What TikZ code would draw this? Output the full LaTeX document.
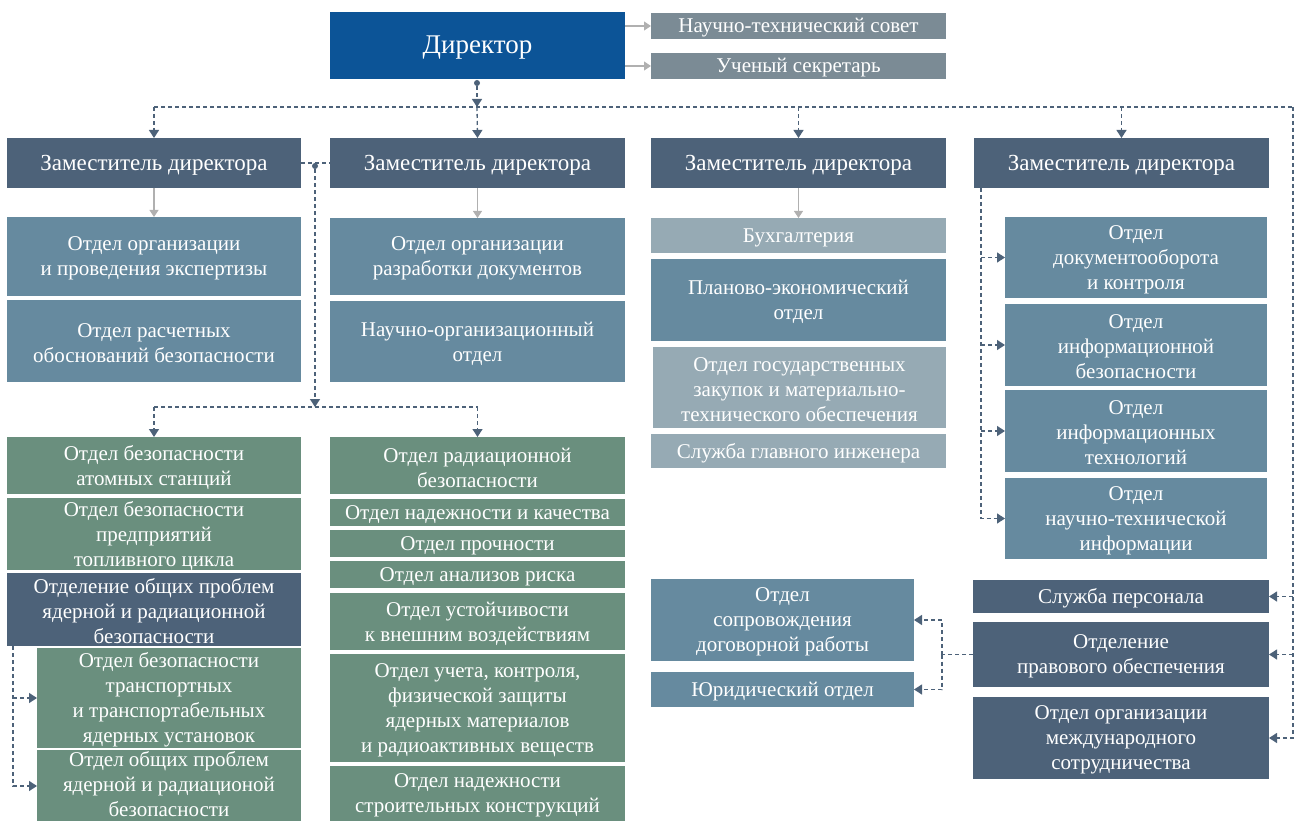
\documentclass[tikz,border=0pt]{standalone}
\usepackage{fontspec}
\setmainfont{Liberation Serif}
\usetikzlibrary{arrows.meta}
\definecolor{dirblue}{HTML}{0C5497}
\definecolor{deputy}{HTML}{4D6279}
\definecolor{midblue}{HTML}{668A9F}
\definecolor{lightblue}{HTML}{96AAB4}
\definecolor{greenbox}{HTML}{6A8F7E}
\definecolor{topgray}{HTML}{7B8B95}
\definecolor{dashc}{HTML}{4D6279}
\definecolor{grayc}{HTML}{B0B0B0}
\newcommand{\fs}{\fontsize{21}{25}\selectfont}
\newcommand{\fd}{\fontsize{23}{25}\selectfont}
\newcommand{\ob}[7]{\node[ob,fill=#1,minimum width={(#4)-(#2)},minimum height={(#5)-(#3)}] (#6) at ({((#2)+(#4))/2},{((#3)+(#5))/2}) {};
  \node[txt] (#6t) at ([yshift=-2pt]#6.center) {#7};}
\begin{document}
\begin{tikzpicture}[x=1pt,y=-1pt,
  ob/.style={inner sep=0pt,outer sep=0pt,draw=none},
  txt/.style={inner sep=0pt,outer sep=0pt,text=white,align=center,font=\fs},
  dl/.style={draw=dashc,line width=1.3pt,dash pattern=on 4pt off 3pt},
  da/.style={dl,-{Triangle[length=8pt,width=10pt]}},
  ga/.style={draw=grayc,line width=1.2pt,-{Triangle[length=7pt,width=9pt]}},
  dotst/.style={circle,fill=dashc,inner sep=0pt,minimum size=6pt}]
\useasboundingbox (0,0) rectangle (1294,821);
% top
\node[ob,fill=dirblue,minimum width=295,minimum height=67] (dir) at (477.5,45.5) {};
\node[txt,font=\fontsize{27}{30}\selectfont] (dirt) at ([yshift=-2pt]dir.center) {Директор};
\ob{topgray}{651}{13}{946}{39}{nts}{Научно-технический совет}
\ob{topgray}{651}{53}{946}{79}{us}{Ученый секретарь}
% deputies
\tikzset{txt/.style={inner sep=0pt,outer sep=0pt,text=white,align=center,font=\fd}}
\ob{deputy}{7}{138}{301}{188}{d1}{Заместитель директора}
\ob{deputy}{330}{138}{625}{188}{d2}{Заместитель директора}
\ob{deputy}{651}{138}{946}{188}{d3}{Заместитель директора}
\ob{deputy}{974}{138}{1269}{188}{d4}{Заместитель директора}
\tikzset{txt/.style={inner sep=0pt,outer sep=0pt,text=white,align=center,font=\fs}}
% column 1
\ob{midblue}{7}{217}{301}{296}{e1}{Отдел организации\\и проведения экспертизы}
\ob{midblue}{7}{300}{301}{382}{e2}{Отдел расчетных\\обоснований безопасности}
% column 2
\ob{midblue}{330}{218}{625}{295}{f1}{Отдел организации\\разработки документов}
\ob{midblue}{330}{301}{625}{382}{f2}{Научно-организационный\\отдел}
% column 3
\ob{lightblue}{651}{218}{946}{253}{buh}{Бухгалтерия}
\ob{midblue}{651}{259}{946}{341}{plan}{Планово-экономический\\отдел}
\ob{lightblue}{653}{347}{946}{428}{zak}{Отдел государственных\\закупок и материально-\\технического обеспечения}
\ob{lightblue}{651}{434}{946}{468}{sgi}{Служба главного инженера}
% column 4
\ob{midblue}{1005}{217}{1267}{298}{c4a}{Отдел\\документооборота\\и контроля}
\ob{midblue}{1005}{304}{1267}{386}{c4b}{Отдел\\информационной\\безопасности}
\ob{midblue}{1005}{390}{1267}{472}{c4c}{Отдел\\информационных\\технологий}
\ob{midblue}{1005}{478}{1267}{559}{c4d}{Отдел\\научно-технической\\информации}
% lower left column
\ob{greenbox}{7}{437}{301}{494}{a1}{Отдел безопасности\\атомных станций}
\ob{greenbox}{7}{498}{301}{570}{a2}{Отдел безопасности\\предприятий\\топливного цикла}
\ob{deputy}{7}{573}{301}{646}{otd}{Отделение общих проблем\\ядерной и радиационной\\безопасности}
\ob{greenbox}{37}{648}{301}{748}{t1}{Отдел безопасности\\транспортных\\и транспортабельных\\ядерных установок}
\node[ob,fill=greenbox,minimum width=264,minimum height=72] (t2) at (169,786) {};
\node[txt] (t2t) at ([yshift=1.5pt]t2.center) {Отдел общих проблем\\ядерной и радиационой\\безопасности};
% lower second column
\ob{greenbox}{330}{437}{625}{494}{r1}{Отдел радиационной\\безопасности}
\ob{greenbox}{330}{499}{625}{526}{r2}{Отдел надежности и качества}
\ob{greenbox}{330}{530}{625}{557}{r3}{Отдел прочности}
\ob{greenbox}{330}{561}{625}{588}{r4}{Отдел анализов риска}
\ob{greenbox}{330}{593}{625}{650}{r5}{Отдел устойчивости\\к внешним воздействиям}
\ob{greenbox}{330}{654}{625}{762}{r6}{Отдел учета, контроля,\\физической защиты\\ядерных материалов\\и радиоактивных веществ}
\ob{greenbox}{330}{766}{625}{821}{r7}{Отдел надежности\\строительных конструкций}
% bottom right
\ob{midblue}{651}{579}{914}{661}{sopr}{Отдел\\сопровождения\\договорной работы}
\ob{midblue}{651}{672}{914}{707}{yur}{Юридический отдел}
\ob{deputy}{973}{580}{1269}{613}{kad}{Служба персонала}
\ob{deputy}{973}{622}{1269}{687}{prav}{Отделение\\правового обеспечения}
\ob{deputy}{973}{697}{1269}{779}{intl}{Отдел организации\\международного\\сотрудничества}
% gray arrows
\draw[ga] (dir.east |- nts.west) -- (nts.west);
\draw[ga] (dir.east |- us.west) -- (us.west);
\draw[ga] (d1.south) -- (e1.north);
\draw[ga] (d2.south) -- (f1.north);
\draw[ga] (d3.south) -- (buh.north);
% director to deputies
\node[dotst] (dot0) at (477,83) {};
\coordinate (j0) at (477,107);
\coordinate (hl) at (154,107);
\coordinate (hr) at (1293,107);
\draw[dl] (hl) -- (hr);
\draw[da] (dot0) -- (j0);
\draw[da] (j0) -- (d2.north);
\draw[da] (hl) -- (d1.north);
\draw[da] (d3.north |- hl) -- (d3.north);
\draw[da] (d4.north |- hl) -- (d4.north);
\draw[da] (hr) |- (intl.east);
\draw[da] (kad.east -| hr) -- (kad.east);
\draw[da] (prav.east -| hr) -- (prav.east);
% deputies 1-2 to lower columns
\draw[dl] (d1.east) -- (d2.west);
\node[dotst] (dot1) at (315,166) {};
\coordinate (j1) at (315,407);
\coordinate (j1l) at (154,407);
\coordinate (j1r) at (477.5,407);
\draw[dl] (j1l) -- (j1r);
\draw[da] (dot1) -- (j1);
\draw[da] (j1l) -- (a1.north);
\draw[da] (j1r) -- (r1.north);
% division to its departments
\coordinate (os) at ([xshift=6pt]otd.south west);
\draw[da] (os) |- (t2.west);
\draw[da] (t1.west -| os) -- (t1.west);
% deputy 4 spine
\coordinate (s4) at ([xshift=7pt]d4.south west);
\draw[da] (s4) |- (c4d.west);
\draw[da] (c4a.west -| s4) -- (c4a.west);
\draw[da] (c4b.west -| s4) -- (c4b.west);
\draw[da] (c4c.west -| s4) -- (c4c.west);
% legal
\coordinate (lj) at (942,654.5);
\draw[dl] (prav.west) -- (lj);
\draw[da] (lj) |- (sopr.east);
\draw[da] (lj) |- (yur.east);
\end{tikzpicture}
\end{document}
